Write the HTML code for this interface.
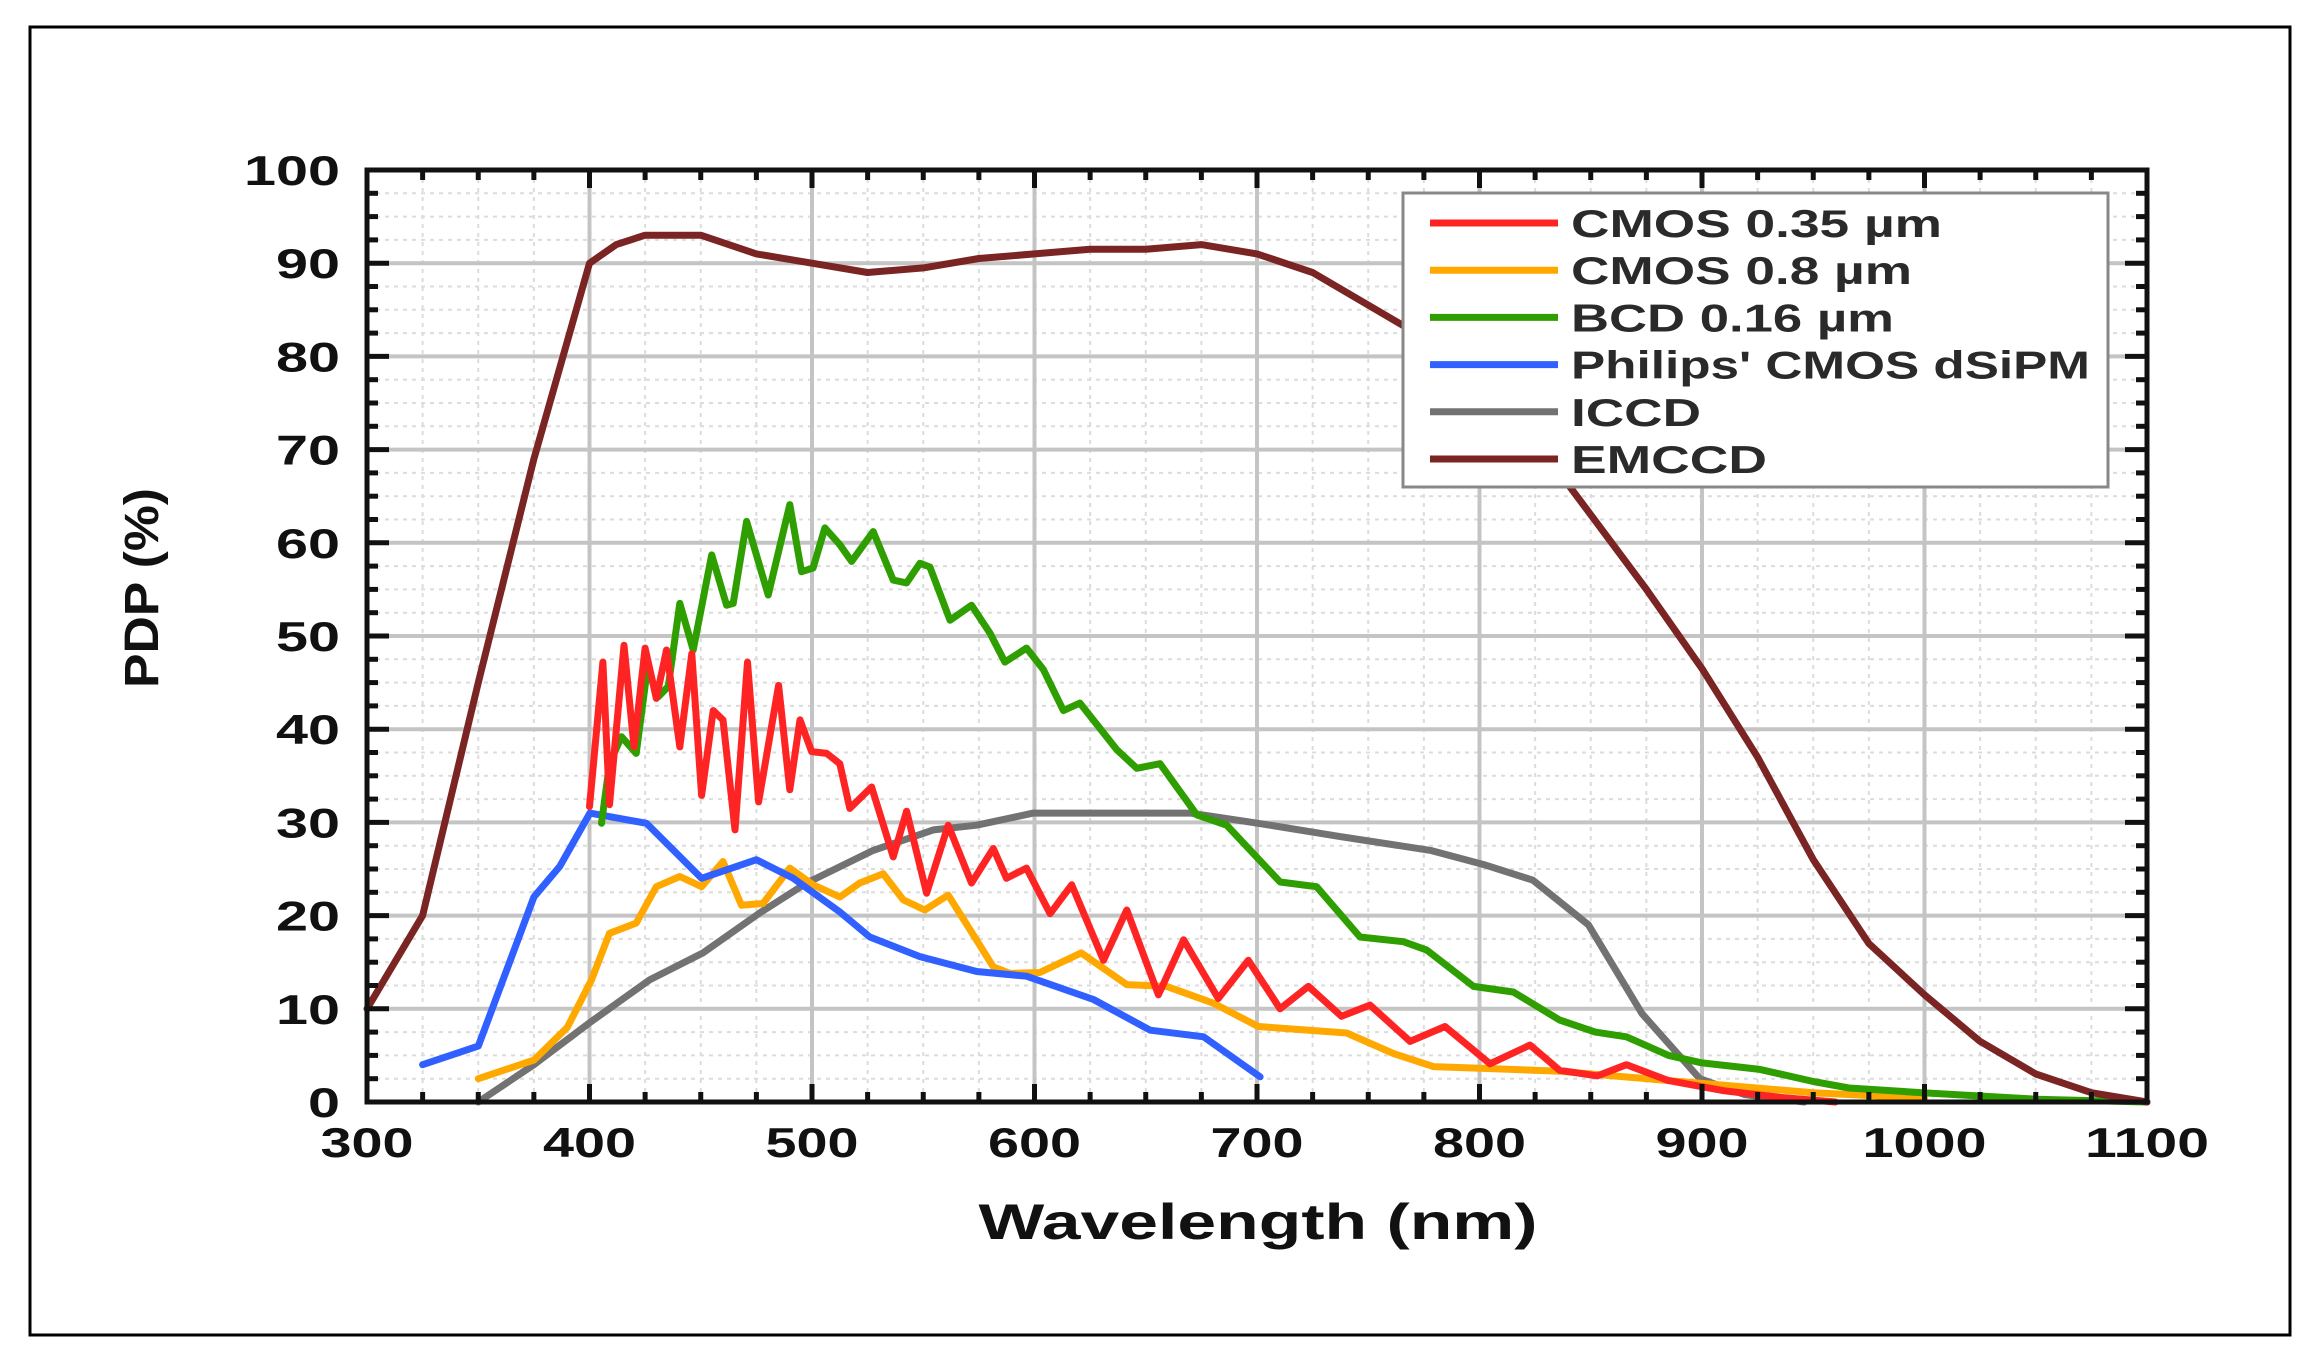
<!DOCTYPE html>
<html><head><meta charset="utf-8"><style>
html,body{margin:0;padding:0;background:#fff;}
svg{display:block;font-family:"Liberation Sans",sans-serif;}
</style></head><body>
<svg id="chart" width="2319" height="1357" viewBox="0 0 2319 1357">
<rect x="30" y="27" width="2260" height="1308" fill="#fff" stroke="#000" stroke-width="3"/>
<g id="grid"></g>
<g id="series"></g>
<g id="axes"></g>
<g id="legend"></g>
<text x="1258" y="1239" font-size="50" font-weight="bold" text-anchor="middle" textLength="559" lengthAdjust="spacingAndGlyphs" fill="#111">Wavelength (nm)</text>
<text transform="translate(158,588) rotate(-90)" font-size="48" font-weight="bold" text-anchor="middle" textLength="200" lengthAdjust="spacingAndGlyphs" fill="#111">PDP (%)</text>
</svg>
<script>
const xTicks = [300,400,500,600,700,800,900,1000,1100];
const yTicks = [0,10,20,30,40,50,60,70,80,90,100];
const seriesNames = ["CMOS 0.35 µm","CMOS 0.8 µm","BCD 0.16 µm","Philips' CMOS dSiPM","ICCD","EMCCD"];
const cmos035X = [400,406,409,415.5,420,425,430,434.6,440.6,446,450.4,455.6,460,465.4,471,476,485,490,494.6,499.8,506.6,512.5,517,526.8,536.5,542.5,551.5,561.2,571.7,581.5,587.4,596.4,607,616.7,631,641.5,655.7,667,682.6,696.1,710.4,723.1,738,750.8,768.8,784.5,804.7,822.7,836,853,866,885,910,935,960];
const cmos035Y = [31.7,47.2,31.9,49,38.1,48.7,43.3,48.5,38.1,48.1,32.9,42,41,29.2,47.2,32.2,44.7,33.5,41,37.6,37.4,36.3,31.5,33.8,26.3,31.2,22.4,29.7,23.5,27.2,24,25.1,20.2,23.3,15.2,20.6,11.5,17.4,11.1,15.2,10,12.4,9.2,10.4,6.5,8.1,4.1,6.1,3.4,2.8,4,2.3,1.2,0.5,0];
const cmos08X = [350,375,390,400.9,409,421,430,440.6,450.4,460,468.3,478,490,500.5,512.5,521.5,532,541,550.7,561.2,571,581.5,589,602.4,621,641.5,659.4,680.4,700.6,740.3,761.3,779.3,801.8,836,850,900,950,1000];
const cmos08Y = [2.5,4.5,8,13.1,18.1,19.2,23.1,24.2,23.1,25.8,21.1,21.3,25.1,23.3,22,23.5,24.5,21.7,20.6,22.2,18.5,14.5,13.8,13.9,16,12.6,12.4,10.6,8.1,7.4,5.2,3.8,3.6,3.3,3,2,1,0.4];
const bcdX = [405.4,409,414.4,421,426,431,435.4,440.6,446.6,454.9,461.6,464.6,470.6,480.3,490,495.3,500.5,505.8,512.5,517.8,527.5,536.5,542.5,548.5,553,562,571.7,580,586.7,596.4,604,613,620.4,637,646,656.4,673,686.4,710.4,726.8,746.3,765.8,776.3,797.3,815.2,836,852,866,885,900,926,950,966,999,1050,1100];
const bcdY = [29.9,36.3,39.2,37.4,46.5,43.5,44.6,53.5,48.5,58.7,53.3,53.5,62.3,54.4,64.1,56.9,57.3,61.6,59.8,58,61.2,56,55.7,57.8,57.4,51.7,53.3,50.3,47.2,48.7,46.4,42,42.8,37.8,35.8,36.3,30.8,29.7,23.6,23.1,17.7,17.2,16.3,12.4,11.8,8.8,7.5,7,5,4.2,3.5,2.2,1.5,1,0.3,0];
const philipsX = [325,350,375,386.7,400.2,425.6,450.4,475,491.6,512.5,526,548.5,574,596.4,626.5,652,676,701.4];
const philipsY = [4,6,22,25.3,31,29.9,24,26,24,20.4,17.7,15.6,14,13.5,11,7.7,7,2.7];
const iccdX = [350,375,400,427,451,476.6,497.6,527.5,554.5,574,599.4,620,670,698,737,778,803,824,836,849,873,899,919,946];
const iccdY = [0,4,8.5,13.1,16,20.3,23.5,27,29.2,29.7,31,31,31,30,28.5,27,25.4,23.8,21.5,19,9.5,2.5,0.8,0];
const emccdX = [300,325,350,375,400,412,425,450,475,500,525,550,575,600,625,650,675,700,725,750,775,800,825,850,875,900,925,950,975,1000,1025,1050,1075,1100];
const emccdY = [10,20,45,69,90,92,93,93,91,90,89,89.5,90.5,91,91.5,91.5,92,91,89,85.5,82,77,71,63,55,46.5,37,26,17,11.5,6.5,3,1,0];

const NS="http://www.w3.org/2000/svg";
const X0=367,X1=2147,Y0=1102,Y1=170;
function sx(v){return X0+(v-300)/800*(X1-X0);}
function sy(v){return Y0-(v/100)*(Y0-Y1);}
function mk(tag,attrs,parent){const e=document.createElementNS(NS,tag);for(const k in attrs)e.setAttribute(k,attrs[k]);parent.appendChild(e);return e;}
const grid=document.getElementById('grid'),axes=document.getElementById('axes'),ser=document.getElementById('series'),leg=document.getElementById('legend');
for(let v=300;v<=1100;v+=25){if(v%100===0)continue;const l=mk('line',{x1:sx(v),x2:sx(v),y1:Y1,y2:Y0,stroke:'#dcdcdc','stroke-width':2,'stroke-dasharray':'4 5'},grid);

}
for(let v=2.5;v<100;v+=2.5){if(v%10===0)continue;const l=mk('line',{x1:X0,x2:X1,y1:sy(v),y2:sy(v),stroke:'#dcdcdc','stroke-width':2,'stroke-dasharray':'4 5'},grid);

}
xTicks.forEach(v=>{const l=mk('line',{x1:sx(v),x2:sx(v),y1:Y1,y2:Y0,stroke:'#c4c4c4','stroke-width':4},grid);

});
yTicks.forEach(v=>{const l=mk('line',{x1:X0,x2:X1,y1:sy(v),y2:sy(v),stroke:'#c4c4c4','stroke-width':4},grid);

});
const colors=['#ff2424','#ffa800','#2e9e00','#3060ff','#727272','#7a2424'];
const data=[[cmos035X,cmos035Y],[cmos08X,cmos08Y],[bcdX,bcdY],[philipsX,philipsY],[iccdX,iccdY],[emccdX,emccdY]];
const sNames=['cmos-035-line','cmos-08-line','bcd-016-line','philips-dsipm-line','iccd-line','emccd-line'];
[4,1,3,2,0,5].forEach(i=>{const [xs,ys]=data[i];const d=xs.map((x,j)=>(j?'L':'M')+sx(x).toFixed(1)+','+sy(ys[j]).toFixed(1)).join(' ');
const p=mk('path',{d:d,fill:'none',stroke:colors[i],'stroke-width':7,'stroke-linejoin':'round','stroke-linecap':'round'},ser);

});
const fr=mk('rect',{x:X0,y:Y1,width:X1-X0,height:Y0-Y1,fill:'none',stroke:'#111','stroke-width':5},axes);


for(let v=300;v<=1100;v+=25){const L=v%100===0?18:10;
mk('line',{x1:sx(v),x2:sx(v),y1:Y0,y2:Y0-L,stroke:'#111','stroke-width':5},axes);
mk('line',{x1:sx(v),x2:sx(v),y1:Y1,y2:Y1+L,stroke:'#111','stroke-width':5},axes);}
for(let v=2.5;v<100;v+=2.5){const L=v%10===0?22:11;
mk('line',{x1:X0,x2:X0+L,y1:sy(v),y2:sy(v),stroke:'#111','stroke-width':5},axes);
mk('line',{x1:X1,x2:X1-L,y1:sy(v),y2:sy(v),stroke:'#111','stroke-width':5},axes);}
xTicks.forEach(v=>{const t=mk('text',{x:sx(v),y:1157,'font-size':42,'font-weight':'bold','text-anchor':'middle',fill:'#111',textLength:v>=1000?124:93,lengthAdjust:'spacingAndGlyphs'},axes);t.textContent=v;

});
yTicks.forEach(v=>{const t=mk('text',{x:340,y:sy(v)+15,'font-size':42,'font-weight':'bold','text-anchor':'end',fill:'#111',textLength:v>=100?96:(v>0?64:32),lengthAdjust:'spacingAndGlyphs'},axes);t.textContent=v;

});
const lb=mk('rect',{x:1403,y:193,width:705,height:294,fill:'#fff',stroke:'#888','stroke-width':3},leg);


const lw=[371,341,323,519,130,196];
seriesNames.forEach((n,i)=>{const y=223+i*47.2;
const l=mk('line',{x1:1430,x2:1558,y1:y,y2:y,stroke:colors[i],'stroke-width':7},leg);


const t=mk('text',{x:1571,y:y+14,'font-size':39,'font-weight':'bold',fill:'#2a2a2a',textLength:lw[i],lengthAdjust:'spacingAndGlyphs'},leg);t.textContent=n;

});
</script>
</body></html>
